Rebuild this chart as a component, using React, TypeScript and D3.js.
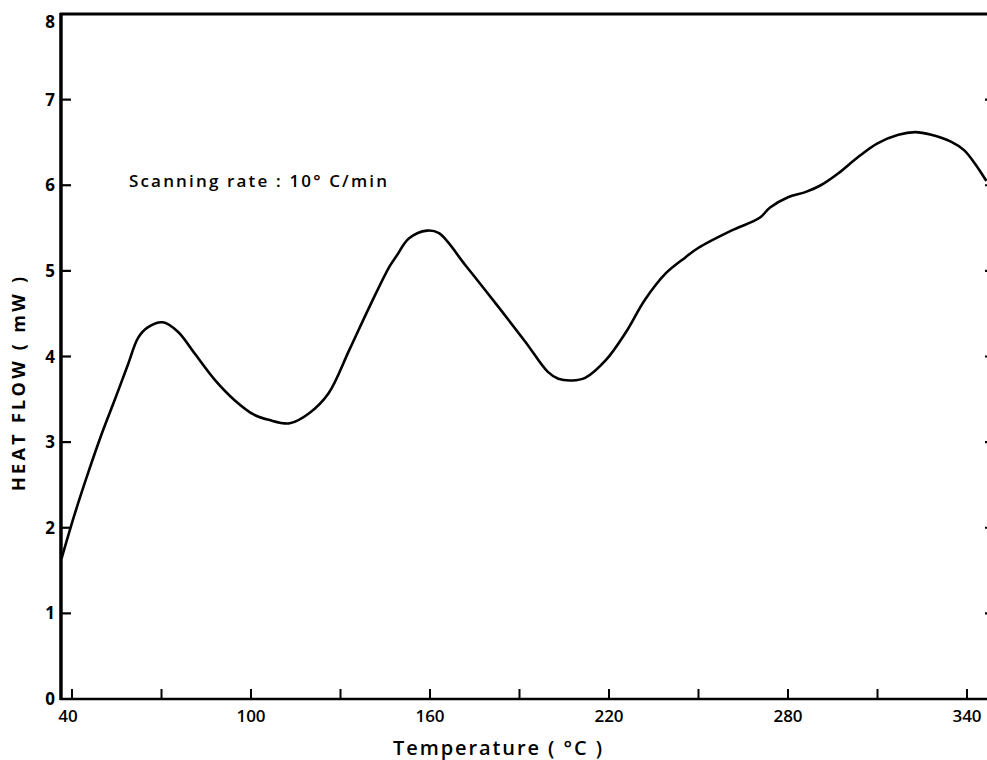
import React from "react";
import * as d3 from "d3";

// DSC trace: temperature (°C) vs heat flow (mW)
const temperature = [
  36.5, 41, 45.4, 50, 54.4, 58.7, 62.2, 65.4, 70.4, 75.5, 81, 87.8, 94.5, 101,
  106, 113, 119.6, 126, 133, 139.7, 146.4, 148.7, 153, 159, 163, 172, 182,
  192, 199.5, 203, 207.6, 212, 219, 225.6, 232, 239, 245.7, 250, 261, 270.5,
  274, 280, 285.8, 291, 296.9, 303.5, 310, 317, 322.6, 328, 334.6, 339,
  342.5, 346.5,
];
const heatFlow = [
  1.64, 2.17, 2.64, 3.1, 3.5, 3.9, 4.22, 4.34, 4.4, 4.29, 4.04, 3.73, 3.49,
  3.32, 3.26, 3.22, 3.34, 3.57, 4.08, 4.58, 5.05, 5.17, 5.38, 5.47, 5.44, 5.06,
  4.62, 4.17, 3.82, 3.74, 3.72, 3.75, 3.96, 4.28, 4.66, 4.97, 5.16, 5.27, 5.47,
  5.62, 5.74, 5.86, 5.92, 6.0, 6.14, 6.33, 6.49, 6.59, 6.62, 6.59, 6.51, 6.41,
  6.26, 6.05,
];

const xTicks = d3.range(40, 341, 30);
const xTickLabels = [40, 100, 160, 220, 280, 340];
const yTicks = [0, 1, 2, 3, 4, 5, 6, 7, 8];

const annotation = "Scanning rate : 10° C/min";
const xTitle = "Temperature ( °C )";
const yTitle = "HEAT  FLOW  ( mW )";

const W = 987;
const H = 760;
const FONT = "'Open Sans', 'DejaVu Sans', sans-serif";

export default function App() {
  const x = d3.scaleLinear().domain([40, 340]).range([72, 967]);
  const y = d3.scaleLinear().domain([0, 8]).range([699, 14]);

  const left = x(36.3);
  const right = 992;
  const bottom = y(0);
  const top = y(8);

  const points = temperature.map((t, i) => [t, heatFlow[i]] as [number, number]);
  const line = d3
    .line<[number, number]>()
    .x((d) => x(d[0]))
    .y((d) => y(d[1]))
    .curve(d3.curveCatmullRom.alpha(0.5));

  return (
    <svg
      width={W}
      height={H}
      style={{ position: "absolute", left: 0, top: 0, background: "#fff" }}
      fontFamily={FONT}
    >
      <rect width={W} height={H} fill="#fff" />

      {/* frame */}
      <line x1={left} x2={left} y1={top - 1} y2={bottom + 1} stroke="#000" strokeWidth={3.5} />
      <line x1={left - 1} x2={right} y1={top} y2={top} stroke="#000" strokeWidth={3} />
      <line x1={left - 1} x2={right} y1={bottom} y2={bottom} stroke="#000" strokeWidth={2.5} />
      <line x1={right} x2={right} y1={top} y2={bottom} stroke="#000" strokeWidth={3} />

      {/* y ticks, left and right */}
      {yTicks.map((v) => (
        <g key={"y" + v}>
          {v > 0 && v < 8 && (
            <>
              <line x1={left} x2={left + 10} y1={y(v)} y2={y(v)} stroke="#000" strokeWidth={2.2} />
              <line x1={right - 7} x2={right} y1={y(v)} y2={y(v)} stroke="#000" strokeWidth={2.2} />
            </>
          )}
          <text
            x={55}
            y={v === 8 ? y(v) + 8 : y(v)}
            dy="0.36em"
            textAnchor="end"
            fontSize={17}
            fontWeight={700}
          >
            {v}
          </text>
        </g>
      ))}

      {/* x ticks */}
      {xTicks.map((t) => (
        <line
          key={"x" + t}
          x1={x(t)}
          x2={x(t)}
          y1={bottom}
          y2={bottom - 10}
          stroke="#000"
          strokeWidth={2}
        />
      ))}
      {xTickLabels.map((t) => (
        <text
          key={"xl" + t}
          x={t === 40 ? x(t) - 4 : x(t)}
          y={722}
          textAnchor="middle"
          fontSize={17}
          fontWeight={600}
        >
          {t}
        </text>
      ))}

      {/* curve */}
      <path d={line(points) || ""} fill="none" stroke="#000" strokeWidth={2.6} strokeLinejoin="round" />

      {/* annotation */}
      <text x={129} y={187} fontSize={17} fontWeight={600} textLength={258} lengthAdjust="spacing">
        {annotation}
      </text>

      {/* axis titles */}
      <text x={393} y={755} fontSize={20} fontWeight={600} textLength={209} lengthAdjust="spacing">
        {xTitle}
      </text>
      <text
        transform={`translate(25, 384) rotate(-90)`}
        textAnchor="middle"
        fontSize={18}
        fontWeight={700}
        textLength={214}
        lengthAdjust="spacing"
      >
        {yTitle}
      </text>
    </svg>
  );
}
